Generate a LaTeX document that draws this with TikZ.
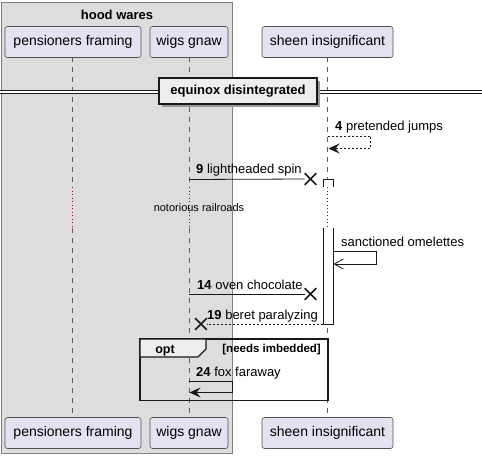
\documentclass[tikz,border=0pt]{standalone}
\usepackage{fontspec}
\setmainfont{Liberation Sans}
\usetikzlibrary{arrows.meta,shapes.misc}
\definecolor{partfill}{HTML}{E2E2F0}
\definecolor{ink}{HTML}{181818}
\definecolor{boxfill}{HTML}{DDDDDD}
\definecolor{delayred}{HTML}{A80036}
\definecolor{grpfill}{HTML}{EEEEEE}
\tikzset{
  part/.style={draw=ink!75, fill=partfill, rounded corners=2.5pt, minimum height=31pt, inner sep=0pt, font=\fontsize{14}{16}\selectfont, line width=0.6pt},
  lifeline/.style={draw=ink!70, dash pattern=on 5pt off 5pt, line width=0.5pt},
  delayline/.style={draw=delayred, dash pattern=on 1pt off 2.5pt, line width=0.7pt},
  msg/.style={draw=ink, line width=0.8pt},
  dmsg/.style={draw=ink, line width=0.8pt, dash pattern=on 2pt off 2pt},
  lbl/.style={font=\fontsize{13}{15}\selectfont, anchor=base west, inner sep=0pt},
  xmark/.style={draw=ink, cross out, minimum size=10pt, inner sep=0pt, line width=1.7pt},
  fullhead/.style={-{Stealth[length=11pt,width=10pt,inset=4pt]}},
  openhead/.style={-{Straight Barb[length=9pt,width=10pt,line width=0.8pt]}},
  actbar/.style={draw=ink, fill=white, line width=0.8pt},
}
\begin{document}
\begin{tikzpicture}[x=1pt,y=-1pt]
\useasboundingbox (0,0) rectangle (482,459);
% box
\draw[fill=boxfill, draw=ink!55, line width=0.7pt] (1.5,2.5) rectangle (232,453);
\node[font=\bfseries\fontsize{13}{15}\selectfont, inner sep=0pt] (boxtitle) at (117,15) {hood wares};

% lifeline coordinates
\coordinate (pTop) at (72,57);   \coordinate (pBot) at (72,417);
\coordinate (wTop) at (189,57);  \coordinate (wBot) at (189,417);
\coordinate (sTop) at (327.5,57);\coordinate (sBot) at (327.5,417);
\coordinate (pD1) at (72,187);   \coordinate (pD2) at (72,228);
\coordinate (wD1) at (189,187);  \coordinate (wD2) at (189,228);
\coordinate (sD1) at (327.5,187);\coordinate (sD2) at (327.5,228);

\draw[lifeline] (pTop) -- (pD1); \draw[lifeline] (pD2) -- (pBot);
\draw[lifeline] (wTop) -- (wD1); \draw[lifeline] (wD2) -- (wBot);
\draw[lifeline] (sTop) -- (sD1); \draw[lifeline] (sD2) -- (sBot);
\draw[delayline] (pD1) -- (pD2);
\draw[delayline] (wD1) -- (wD2);
\draw[delayline] (sD1) -- (sD2);

% participants
\node[part, minimum width=136pt] (p1) at (73,42) {pensioners framing};
\node[part, minimum width=78pt] (w1) at (189,42) {wigs gnaw};
\node[part, minimum width=131pt] (s1) at (327.5,42) {sheen insignificant};
\node[part, minimum width=136pt] (p2) at (73,433) {pensioners framing};
\node[part, minimum width=78pt] (w2) at (189,433) {wigs gnaw};
\node[part, minimum width=131pt] (s2) at (327.5,433) {sheen insignificant};

% divider
\coordinate (dvL) at (0,92); \coordinate (dvR) at (482,92);
\draw[ink, line width=0.8pt, double distance=2.5pt] (dvL) -- (dvR);
\fill[ink!45] (162,81) rectangle (320,107);
\node[draw=ink, line width=1.5pt, fill=grpfill, minimum width=158pt, minimum height=26pt, inner sep=0pt, font=\bfseries\fontsize{13}{15}\selectfont] (div) at (238,91) {equinox disintegrated};

% message 4 (self, dashed)
\coordinate (m4a) at (327.5,136); \coordinate (m4b) at (328.5,148.5);
\draw[dmsg, fullhead] (m4a) -- ++(43,0) |- (m4b);
\node[lbl] (l4) at (335,130) {\textbf{4} pretended jumps};

% message 9
\coordinate (m9a) at (189,179.5);
\node[xmark] (x9) at (310.5,179) {};
\draw[msg] (m9a) -- (x9.west);
\node[lbl] (l9) at (196,173.5) {\textbf{9} lightheaded spin};

% activation bars
\coordinate (a1a) at (323,187); \coordinate (a1b) at (333,187);
\draw[actbar] (a1a) -- ++(0,-8) -- ++(10,0) -- (a1b);
\coordinate (a2a) at (323,228); \coordinate (a2b) at (333,228);
\fill[white] (323,228) rectangle (333,324);
\draw[actbar] (a2a) -- (323,324) -- (333,324) -- (a2b);

% delay text
\node[font=\fontsize{11}{13}\selectfont, inner sep=0pt] (delaytxt) at (199,208) {notorious railroads};

% sanctioned omelettes
\coordinate (m10a) at (333,251); \coordinate (m10b) at (333.5,264);
\draw[msg, openhead] (m10a) -- ++(43,0) |- (m10b);
\node[lbl] (l10) at (341,246) {sanctioned omelettes};

% message 14
\coordinate (m14a) at (189,294);
\node[xmark] (x14) at (310.5,294) {};
\draw[msg] (m14a) -- (x14.west);
\node[lbl] (l14) at (197,289) {\textbf{14} oven chocolate};

% message 19
\coordinate (m19a) at (323,324);
\node[xmark] (x19) at (201,324) {};
\draw[dmsg] (m19a) -- (x19.east);
\node[lbl] (l19) at (207,319) {\textbf{19} beret paralyzing};

% opt fragment
\draw[ink, line width=1.8pt] (140,339) rectangle (328,400.5);
\draw[ink, line width=1.1pt, fill=grpfill] (140,339) -- (206,339) -- (206,349) -- (198,357) -- (140,357) -- cycle;
\node[font=\bfseries\fontsize{12.5}{14}\selectfont, anchor=base, inner sep=0pt] (optlbl) at (165,353) {opt};
\node[font=\bfseries\fontsize{11.5}{13}\selectfont, anchor=base east, inner sep=0pt] (optcond) at (321,352) {[needs imbedded]};

% message 24
\coordinate (m24a) at (189,381); \coordinate (m24b) at (189.5,392.5);
\draw[msg, fullhead] (m24a) -- ++(43,0) |- (m24b);
\node[lbl] (l24) at (196,376) {\textbf{24} fox faraway};
\end{tikzpicture}
\end{document}
